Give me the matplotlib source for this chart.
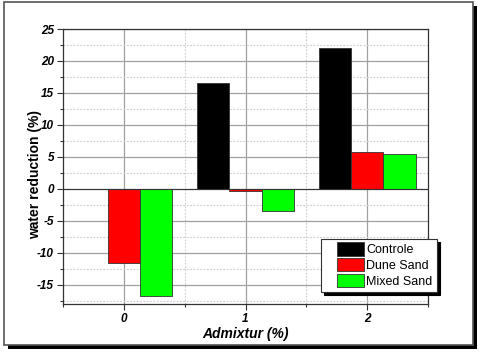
import matplotlib
matplotlib.use("Agg")
import matplotlib.pyplot as plt
from matplotlib.patches import Rectangle
from matplotlib.legend_handler import HandlerPatch
from matplotlib.ticker import MultipleLocator
import numpy as np

plt.rcParams["font.family"] = ["Liberation Sans", "DejaVu Sans"]
plt.rcParams["axes.unicode_minus"] = False

# data
categories = ["0", "1", "2"]
series_names = ["Controle", "Dune Sand", "Mixed Sand"]
controle = [0.0, 16.5, 22.0]
dune_sand = [-11.6, -0.3, 5.8]
mixed_sand = [-16.8, -3.4, 5.5]

colors = ["#000000", "#ff0000", "#00ff00"]

fig = plt.figure(figsize=(4.8, 3.52), dpi=100)

# outer frame with drop shadow (figure pixel coords -> fractions)
W, H = 480.0, 352.0
fig.patches.append(Rectangle((8 / W, (H - 349) / H), 469 / W, 343 / H,
                             transform=fig.transFigure, facecolor="black",
                             edgecolor="none", zorder=0))
fig.patches.append(Rectangle((4 / W, (H - 345) / H), 469 / W, 343 / H,
                             transform=fig.transFigure, facecolor="white",
                             edgecolor="#555555", linewidth=1.2, zorder=1))

ax = fig.add_axes([63 / W, (H - 304) / H, 365 / W, 275 / H])
ax.set_zorder(2)

x = np.arange(len(categories))
width = 0.265
containers = []
for i, (vals, name) in enumerate(zip([controle, dune_sand, mixed_sand], series_names)):
    bc = ax.bar(x + (i - 1) * width, vals, width, color=colors[i], edgecolor="#333333",
                linewidth=0.6, label=name, zorder=3)
    containers.append(bc)

ax.axhline(0, color="#333333", linewidth=0.8, zorder=4)

ax.set_xlim(-0.5, 2.5)
ax.set_ylim(-18, 25)
ax.set_xticks(x)
ax.set_xticklabels(categories)
ax.xaxis.set_minor_locator(MultipleLocator(0.5))
ax.yaxis.set_major_locator(MultipleLocator(5))
ax.yaxis.set_minor_locator(MultipleLocator(2.5))

ax.grid(which="major", color="#a0a0a0", linewidth=0.9, zorder=0)
ax.grid(which="minor", color="#cccccc", linewidth=0.8, linestyle=(0, (1.5, 1.5)), zorder=0)
ax.set_axisbelow(True)

for s in ax.spines.values():
    s.set_color("#333333")
    s.set_linewidth(0.9)

ax.tick_params(which="both", direction="out", color="#333333", width=0.8)
ax.tick_params(which="major", length=4, labelsize=8.5, pad=2.5)
ax.tick_params(which="minor", length=2.5)
for lab in ax.get_xticklabels() + ax.get_yticklabels():
    lab.set_fontweight("bold")
    lab.set_fontstyle("italic")

ax.set_xlabel("Admixtur (%)", fontsize=10, fontweight="bold", fontstyle="italic", labelpad=1.5)
ax.set_ylabel("water reduction (%)", fontsize=10, fontweight="bold")
ax.yaxis.set_label_coords(-0.058, 0.47)


# legend swatches sit on the right part of the handle box, like the original
def offset_patch(legend, orig_handle, xdescent, ydescent, width, height, fontsize):
    return Rectangle((-xdescent + width * 0.3, -ydescent - height * 0.1), width * 0.7, height * 1.2)


handles = [bc.patches[0] for bc in containers]
leg = ax.legend(handles, series_names, loc="lower right", bbox_to_anchor=(1.025, 0.044), fontsize=9,
                frameon=True, fancybox=False, shadow={"color": "black", "alpha": 1},
                handlelength=3.1, handleheight=1.0, borderpad=0.35, labelspacing=0.22,
                handletextpad=0.2, borderaxespad=0,
                handler_map={Rectangle: HandlerPatch(patch_func=offset_patch)})
leg.get_frame().set_edgecolor("#333333")
leg.get_frame().set_linewidth(0.8)
leg.set_zorder(5)

fig.savefig("out.png", dpi=100)
